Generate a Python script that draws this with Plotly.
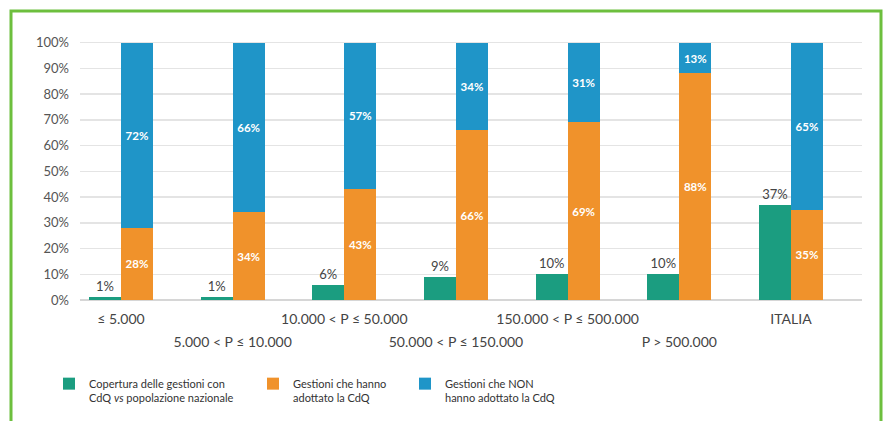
import plotly.graph_objects as go

categories = ["≤ 5.000", "5.000 < P ≤ 10.000", "10.000 < P ≤ 50.000",
              "50.000 < P ≤ 150.000", "150.000 < P ≤ 500.000", "P > 500.000", "ITALIA"]
copertura = [1, 1, 6, 9, 10, 10, 37]
adottato = [28, 34, 43, 66, 69, 88, 35]
non_adottato = [72, 66, 57, 34, 31, 13, 65]

series_names = ["Copertura delle gestioni con<br>CdQ <i>vs</i> popolazione nazionale",
                "Gestioni che hanno<br>adottato la CdQ",
                "Gestioni che NON<br>hanno adottato la CdQ"]

GREEN = "#1b9d80"
ORANGE = "#f0922b"
BLUE = "#1f95c8"
FONT = "Lato"

W, H = 884, 421
ML, MR, MT, MB = 80, 22, 40, 121
PH = H - MT - MB

idx = list(range(len(categories)))
off = 0.1433
bw = 0.2865
x_green = [i - off for i in idx]
x_stack = [i + off for i in idx]
blue_height = [100 - a for a in adottato]

fig = go.Figure()
fig.add_trace(go.Bar(
    x=x_green, y=copertura, width=bw, marker_color=GREEN, marker_line_width=0,
    name=series_names[0], legend="legend",
    text=[f"{v}%" for v in copertura], textposition="outside",
    textfont=dict(family=FONT, size=13, color="#444"), cliponaxis=False,
))
fig.add_trace(go.Bar(
    x=x_stack, y=adottato, width=bw, marker_color=ORANGE, marker_line_width=0,
    name=series_names[1], legend="legend2",
    text=[f"{v}%" for v in adottato], textposition="inside", insidetextanchor="middle",
    textangle=0, constraintext="none",
    textfont=dict(family=FONT, size=11.5, color="white", weight="bold"),
))
fig.add_trace(go.Bar(
    x=x_stack, y=blue_height, width=bw, marker_color=BLUE, marker_line_width=0,
    name=series_names[2], legend="legend3",
    text=[f"{v}%" for v in non_adottato], textposition="inside", insidetextanchor="middle",
    textangle=0, constraintext="none",
    textfont=dict(family=FONT, size=11.5, color="white", weight="bold"),
))
fig.add_trace(go.Scatter(x=[None], y=[None], xaxis="x2", yaxis="y",
                         showlegend=False, hoverinfo="skip"))

xr = [-0.367, 6.636]
row1 = [i for i in idx if i % 2 == 0]
row2 = [i for i in idx if i % 2 == 1]

leg_common = dict(orientation="v", valign="top", yanchor="top", xanchor="left",
                  xref="container", yref="container",
                  font=dict(family=FONT, size=11, color="#333"),
                  bgcolor="rgba(0,0,0,0)", itemclick=False, tracegroupgap=0)
ly = 1 - 370 / H

def px2paper(px):
    return (px - ML) / (W - ML - MR)

def py2paper(py):
    return (H - MB - py) / PH

fig.update_layout(
    width=W, height=H,
    margin=dict(l=ML, r=MR, t=MT, b=MB, autoexpand=False),
    paper_bgcolor="white", plot_bgcolor="white",
    barmode="stack", bargap=0,
    font=dict(family=FONT, color="#444"),
    xaxis=dict(range=xr, tickvals=row1, ticktext=[categories[i] for i in row1],
               showgrid=False, zeroline=False, showline=False, ticks="",
               tickfont=dict(family=FONT, size=14, color="#444"),
               ticklabelstandoff=9, fixedrange=True),
    xaxis2=dict(range=xr, overlaying="x", anchor="y", side="bottom",
                tickvals=row2, ticktext=[categories[i] for i in row2],
                showgrid=False, zeroline=False, showline=False, ticks="",
                tickfont=dict(family=FONT, size=14, color="#444"),
                ticklabelstandoff=32, fixedrange=True),
    yaxis=dict(range=[0, 101], dtick=10, ticksuffix="%", showgrid=True,
               gridcolor="#e4e4e4", gridwidth=1.5, zeroline=True,
               zerolinecolor="#d6d6d6", zerolinewidth=1.5, showline=False, ticks="",
               tickfont=dict(family=FONT, size=13, color="#555"),
               ticklabelstandoff=10, fixedrange=True),
    showlegend=True,
    legend=dict(x=49 / W, y=ly, **leg_common),
    legend2=dict(x=253 / W, y=ly, **leg_common),
    legend3=dict(x=405 / W, y=ly, **leg_common),
    shapes=[dict(type="rect", xref="paper", yref="paper",
                 x0=px2paper(11), x1=px2paper(881),
                 y0=py2paper(460), y1=py2paper(11),
                 line=dict(color="#6dbf3e", width=3), fillcolor="rgba(0,0,0,0)",
                 layer="below")],
)

fig.write_html("out.html", config={"displayModeBar": False, "staticPlot": True},
               post_script="document.body.style.margin='0';document.body.style.padding='0';document.body.style.overflow='hidden';")
